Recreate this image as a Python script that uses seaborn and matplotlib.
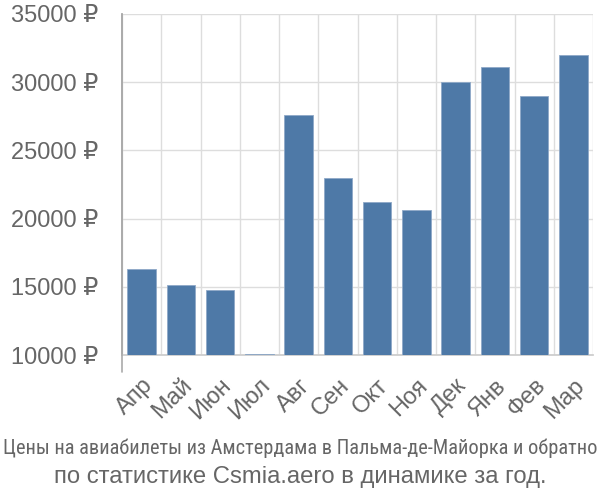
import matplotlib
matplotlib.use("Agg")
import matplotlib.pyplot as plt
from matplotlib import font_manager as fm
import seaborn as sns
import pandas as pd
import numpy as np

months = ["Апр", "Май", "Июн", "Июл", "Авг", "Сен", "Окт", "Ноя", "Дек", "Янв", "Фев", "Мар"]
prices = [16300, 15100, 14800, 10080, 27600, 23000, 21200, 20600, 30000, 31100, 29000, 32000]
yticks = [10000, 15000, 20000, 25000, 30000, 35000]
title_line1 = "Цены на авиабилеты из Амстердама в Пальма-де-Майорка и обратно"
title_line2 = "по статистике Csmia.aero в динамике за год."

sns.set_theme(style="white")
plt.rcParams['font.family'] = ['Liberation Sans', 'DejaVu Sans']

available = {f.name for f in fm.fontManager.ttflist}
narrow = "Liberation Sans"
for cand in ["Liberation Sans Narrow", "Arial Narrow", "Roboto Condensed", "PT Sans Narrow",
             "Fira Sans Condensed", "IBM Plex Sans Condensed", "Open Sans Condensed"]:
    if cand in available:
        narrow = cand
        break

df = pd.DataFrame({"month": months, "price": prices})

fig = plt.figure(figsize=(6, 5), dpi=100)
ax = fig.add_axes([122/600, 1-355/500, (593-122)/600, (355-14)/500])

sns.barplot(data=df, x="month", y="price", color="#4e79a7", saturation=1,
            width=0.72, ax=ax, edgecolor="#8fa9c8", linewidth=0.6, zorder=3)

ax.set_ylim(10000, 35000)
ax.set_xlim(-0.5, len(months) - 0.5)
ax.set_yticks(yticks)
ax.set_yticklabels([f"{v} ₽" for v in yticks])
ax.set_xlabel("")
ax.set_ylabel("")

grid_c = "#dddddd"
ax.set_xticks(np.arange(len(months)))
ax.set_xticklabels(months, rotation=45, ha="right", rotation_mode="anchor")
ax.set_xticks(np.arange(-0.5, len(months)), minor=True)
ax.tick_params(axis="x", which="major", length=0, pad=14, labelsize=17, labelcolor="#666666")
ax.tick_params(axis="x", which="minor", length=13, width=1, color=grid_c)
ax.tick_params(axis="y", which="major", length=15, width=1, color=grid_c, pad=2,
               labelsize=17, labelcolor="#666666")
ax.grid(True, axis="y", which="major", color=grid_c, linewidth=1, zorder=0)
ax.grid(True, axis="x", which="minor", color=grid_c, linewidth=1, zorder=0)
ax.set_axisbelow(True)

for s in ["top", "right"]:
    ax.spines[s].set_visible(False)
ax.spines["bottom"].set_color("#cccccc")
ax.spines["left"].set_color("#aaaaaa")
ax.spines["left"].set_linewidth(1.2)
ax.plot([-0.5, -0.5], [-0.05, 1], transform=ax.get_xaxis_transform(), color="#aaaaaa",
        lw=1.2, clip_on=False, zorder=4)

t1 = fig.text(0.5, 1-454/500, title_line1, ha="center", va="baseline", fontsize=14,
              color="#666666", family=[narrow, "DejaVu Sans"])
t2 = fig.text(0.5, 1-483/500, title_line2, ha="center", va="baseline", fontsize=17,
              color="#666666")

# fit widths to the reference
fig.canvas.draw()
r = fig.canvas.get_renderer()
w1 = t1.get_window_extent(r).width
t1.set_fontsize(t1.get_fontsize() * 597 / w1)
w2 = t2.get_window_extent(r).width
t2.set_fontsize(t2.get_fontsize() * 494 / w2)

fig.savefig("out.png", dpi=100)
